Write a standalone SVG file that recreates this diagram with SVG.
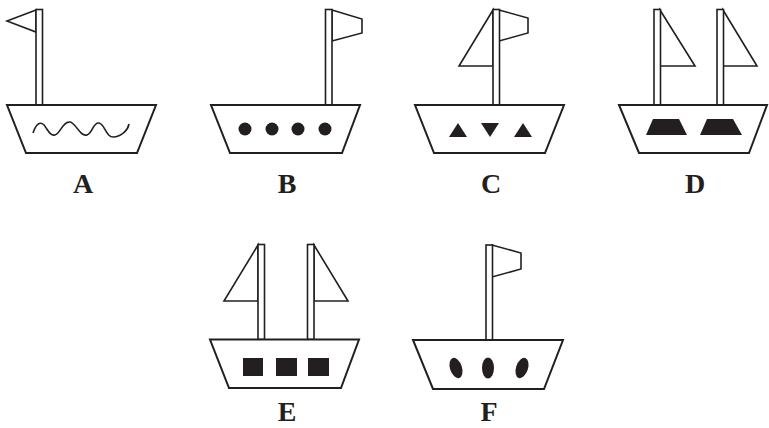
<svg xmlns="http://www.w3.org/2000/svg" width="769" height="428" viewBox="0 0 769 428">
<style>
.hull{fill:#fff;stroke:#231f20;stroke-width:2;stroke-linejoin:miter}
.mast{fill:#fff;stroke:#231f20;stroke-width:1.6}
.sail{fill:#fff;stroke:#231f20;stroke-width:1.6;stroke-linejoin:miter}
.dark{fill:#231f20;stroke:none}
.wave{fill:none;stroke:#231f20;stroke-width:1.6}
.lbl{font-family:"Liberation Serif","Times New Roman",serif;font-weight:bold;font-size:28px;fill:#231f20;text-anchor:middle}
</style>
<rect width="769" height="428" fill="#fff"/>
<g id="boatA">
<polygon class="sail" points="36,10 7,21 36,32"/>
<rect class="mast" x="36" y="9.5" width="6.5" height="95.5"/>
<polygon class="hull" points="7,105 156,105 137,153 26,153"/>
<path class="wave" d="M33,133 C36,124 40,121 44,125 C48,130 50,136 55,135 C60,134 63,121 70,122 C76,123 80,137 87,135 C93,133 93,122 99,123 C105,124 106,138 114,137 C122,136 128,130 129,124"/>
<text class="lbl" x="83" y="193">A</text>
</g>
<g id="boatB">
<polygon class="sail" points="332,10 362,19 362,33 332,41"/>
<rect class="mast" x="325.5" y="9.5" width="6.5" height="95.5"/>
<polygon class="hull" points="211,105 360,105 342,153 230,153"/>
<circle class="dark" cx="245" cy="129" r="6.5"/>
<circle class="dark" cx="272" cy="129" r="6.5"/>
<circle class="dark" cx="298" cy="129" r="6.5"/>
<circle class="dark" cx="325" cy="129" r="6.5"/>
<text class="lbl" x="287" y="193">B</text>
</g>
<g id="boatC">
<polygon class="sail" points="493,10 459,66 493,66"/>
<polygon class="sail" points="499,10 528,18 528,33 499,41"/>
<rect class="mast" x="493" y="9.5" width="6.5" height="95.5"/>
<polygon class="hull" points="415,105 564,105 545,153 434,153"/>
<polygon class="dark" points="458,123 467,137 449,137"/>
<polygon class="dark" points="481,123 499,123 490,137"/>
<polygon class="dark" points="523,123 532,137 514,137"/>
<text class="lbl" x="491" y="193">C</text>
</g>
<g id="boatD">
<polygon class="sail" points="660,10 695,66 660,66"/>
<polygon class="sail" points="723,10 757,66 723,66"/>
<rect class="mast" x="654" y="9.5" width="6.5" height="95.5"/>
<rect class="mast" x="717" y="9.5" width="6.5" height="95.5"/>
<polygon class="hull" points="619,105 767,105 749,153 639,153"/>
<polygon class="dark" points="653,119 679,119 687,135 646,135"/>
<polygon class="dark" points="707,119 733,119 742,135 700,135"/>
<text class="lbl" x="695" y="193">D</text>
</g>
<g id="boatE">
<polygon class="sail" points="258,245 224,301 258,301"/>
<polygon class="sail" points="314,245 348,301 314,301"/>
<rect class="mast" x="258" y="244.5" width="6.5" height="95"/>
<rect class="mast" x="307.5" y="244.5" width="6.5" height="95"/>
<polygon class="hull" points="210,339.5 359,339.5 341,388 229,388"/>
<rect class="dark" x="243" y="358" width="20" height="18"/>
<rect class="dark" x="276" y="358" width="21" height="18"/>
<rect class="dark" x="308" y="358" width="21" height="18"/>
<text class="lbl" x="287" y="421">E</text>
</g>
<g id="boatF">
<polygon class="sail" points="492,245 521,253 521,269 492,277"/>
<rect class="mast" x="486" y="245" width="6.5" height="95"/>
<polygon class="hull" points="413,340 563,340 544,389 433,389"/>
<ellipse class="dark" cx="456" cy="368" rx="6" ry="10.5" transform="rotate(-18 456 368)"/>
<ellipse class="dark" cx="488" cy="368" rx="6" ry="10.5"/>
<ellipse class="dark" cx="522" cy="368" rx="6" ry="10.5" transform="rotate(18 522 368)"/>
<text class="lbl" x="489" y="421">F</text>
</g>
<g id="connectors"/>
</svg>
